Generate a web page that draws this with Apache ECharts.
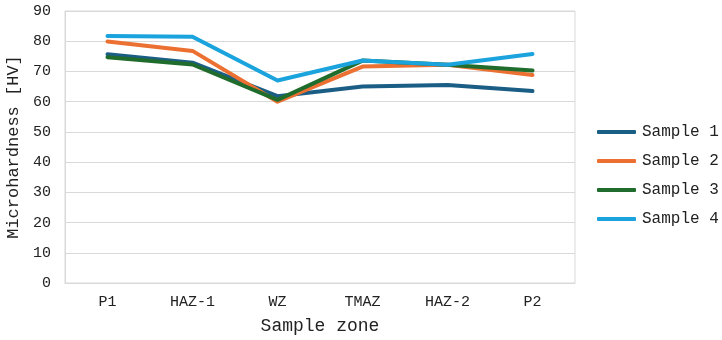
<!DOCTYPE html>
<html><head><meta charset="utf-8">
<script src="https://cdn.jsdelivr.net/npm/echarts@6/dist/echarts.min.js"></script>
<style>html,body{margin:0;padding:0;background:#fff}#c{width:722px;height:340px}</style>
</head><body><div id="c"></div>
<script>
var categories = ['P1','HAZ-1','WZ','TMAZ','HAZ-2','P2'];
var sample1 = [75.7, 72.9, 61.8, 65.0, 65.5, 63.5];
var sample2 = [79.9, 76.8, 60.0, 71.6, 72.2, 68.8];
var sample3 = [74.7, 72.3, 60.6, 73.6, 72.2, 70.3];
var sample4 = [81.7, 81.5, 67.0, 73.6, 72.2, 75.8];
var seriesNames = ['Sample 1','Sample 2','Sample 3','Sample 4'];
var colors = ['#1b5e85','#eb7031','#1f6c2c','#1aa3dc'];
var font = '"Liberation Mono", "DejaVu Sans Mono", monospace';
var data = [sample1, sample2, sample3, sample4];
var chart = echarts.init(document.getElementById('c'));
chart.setOption({
  animation: false,
  textStyle: {fontFamily: font},
  grid: {left: 65, right: 147, top: 11, bottom: 57, show: true, borderColor: '#d9d9d9', borderWidth: 1,
    outerBoundsMode: 'none', containLabel: false},
  legend: {
    orient: 'vertical', top: 119, left: 592, padding: 5,
    itemWidth: 39, itemHeight: 4, itemGap: 13,
    icon: 'roundRect',
    textStyle: {fontFamily: font, fontSize: 16, lineHeight: 16, color: '#222', padding: [0,0,0,1]},
    data: seriesNames
  },
  xAxis: {
    type: 'category', data: categories, boundaryGap: true,
    name: 'Sample zone', nameLocation: 'middle', nameGap: 34,
    nameTextStyle: {fontFamily: font, fontSize: 18, color: '#222'},
    axisLine: {show: true, lineStyle: {color: '#d9d9d9'}},
    axisTick: {show: false},
    axisLabel: {fontFamily: font, fontSize: 15, color: '#222', margin: 12},
    splitLine: {show: false}
  },
  yAxis: {
    type: 'value', min: 0, max: 90, interval: 10,
    name: 'Microhardness [HV]', nameLocation: 'middle', nameGap: 37,
    nameTextStyle: {fontFamily: font, fontSize: 17, color: '#222'},
    axisLine: {show: true, lineStyle: {color: '#d9d9d9'}},
    axisTick: {show: false},
    axisLabel: {fontFamily: font, fontSize: 15, color: '#222', margin: 14},
    splitLine: {lineStyle: {color: '#d9d9d9', width: 1}}
  },
  series: data.map(function(d, i){
    return {name: seriesNames[i], type: 'line', data: d, showSymbol: false, symbol: 'none',
      lineStyle: {width: 4, color: colors[i], cap: 'round', join: 'round'}, itemStyle: {color: colors[i]}};
  })
});
</script></body></html>
